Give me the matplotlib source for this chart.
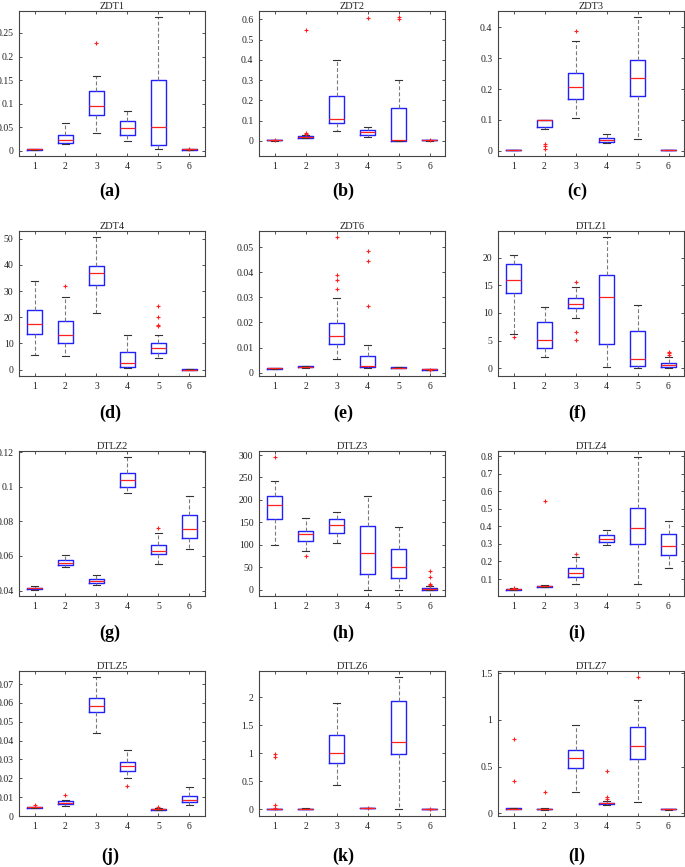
import matplotlib
matplotlib.use("Agg")
import matplotlib.pyplot as plt

plt.rcParams['font.family'] = ['Liberation Serif', 'DejaVu Serif']

titles = ['ZDT1', 'ZDT2', 'ZDT3', 'ZDT4', 'ZDT6', 'DTLZ1',
          'DTLZ2', 'DTLZ3', 'DTLZ4', 'DTLZ5', 'DTLZ6', 'DTLZ7']
letters = ['(a)', '(b)', '(c)', '(d)', '(e)', '(f)',
           '(g)', '(h)', '(i)', '(j)', '(k)', '(l)']
algos = [1, 2, 3, 4, 5, 6]

# box statistics: lower whisker, q1, median, q3, upper whisker
whislo = [
    [0.0025, 0.014, 0.039, 0.021, 0.0035, 0.0025],
    [0.002, 0.013, 0.049, 0.018, 0.002, 0.002],
    [0.002, 0.072, 0.106, 0.024, 0.039, 0.002],
    [5.5, 5.1, 21.8, 0.5, 4.3, 0.0],
    [0.0016, 0.002, 0.0056, 0.0017, 0.0018, 0.0011],
    [6.1, 2.0, 9.0, 0.2, 0.0, 0.1],
    [0.0406, 0.0535, 0.0433, 0.0962, 0.0554, 0.0638],
    [100.3, 85.4, 103.3, 0.0, 0.0, 0.0],
    [0.037, 0.0526, 0.0715, 0.2955, 0.0696, 0.161],
    [0.0041, 0.0055, 0.044, 0.020, 0.0032, 0.0059],
    [0.0, 0.0, 0.433, 0.015, 0.0, 0.0],
    [0.043, 0.040, 0.229, 0.093, 0.121, 0.040],
]
q1 = [
    [0.003, 0.0176, 0.0754, 0.033, 0.0127, 0.003],
    [0.0025, 0.013, 0.087, 0.031, 0.002, 0.0025],
    [0.0025, 0.078, 0.167, 0.030, 0.176, 0.0025],
    [13.5, 10.05, 32.4, 0.9, 6.4, 0.02],
    [0.0016, 0.0021, 0.0115, 0.0021, 0.0019, 0.0012],
    [13.6, 3.6, 10.85, 4.4, 0.4, 0.25],
    [0.041, 0.0546, 0.0444, 0.100, 0.061, 0.0702],
    [158.0, 107.7, 127.0, 35.0, 25.3, 0.0],
    [0.039, 0.0545, 0.1095, 0.3106, 0.297, 0.2347],
    [0.0043, 0.0062, 0.0551, 0.0241, 0.0034, 0.0076],
    [0.0, 0.003, 0.819, 0.018, 0.991, 0.0],
    [0.046, 0.042, 0.482, 0.100, 0.579, 0.041],
]
med = [
    [0.0033, 0.0225, 0.095, 0.0486, 0.0514, 0.0033],
    [0.003, 0.020, 0.107, 0.043, 0.003, 0.003],
    [0.003, 0.100, 0.206, 0.0345, 0.237, 0.003],
    [17.6, 13.4, 36.9, 2.4, 8.1, 0.05],
    [0.0017, 0.0023, 0.0146, 0.0027, 0.0020, 0.0013],
    [15.9, 5.1, 11.6, 12.9, 1.6, 0.5],
    [0.0413, 0.0562, 0.0456, 0.1038, 0.0629, 0.0756],
    [189.5, 123.3, 144.1, 81.0, 51.3, 1.5],
    [0.041, 0.058, 0.132, 0.330, 0.388, 0.290],
    [0.0046, 0.0071, 0.0585, 0.0264, 0.0035, 0.0087],
    [0.002, 0.008, 0.997, 0.020, 1.205, 0.002],
    [0.050, 0.045, 0.596, 0.107, 0.725, 0.043],
]
q3 = [
    [0.0036, 0.0345, 0.128, 0.0627, 0.1514, 0.0036],
    [0.0035, 0.025, 0.220, 0.054, 0.161, 0.0035],
    [0.0035, 0.101, 0.253, 0.040, 0.294, 0.0035],
    [22.6, 18.7, 39.7, 6.6, 10.3, 0.08],
    [0.0017, 0.0026, 0.0196, 0.0066, 0.0021, 0.0015],
    [18.8, 8.3, 12.65, 16.9, 6.8, 1.0],
    [0.0417, 0.0577, 0.0469, 0.1077, 0.0663, 0.0838],
    [209.5, 130.0, 156.8, 142.6, 90.6, 3.7],
    [0.043, 0.062, 0.1607, 0.3524, 0.502, 0.354],
    [0.0048, 0.0078, 0.0626, 0.0289, 0.0037, 0.0108],
    [0.005, 0.012, 1.318, 0.022, 1.923, 0.004],
    [0.0536, 0.050, 0.679, 0.114, 0.921, 0.045],
]
whishi = [
    [0.004, 0.0585, 0.158, 0.0838, 0.283, 0.004],
    [0.004, 0.030, 0.400, 0.069, 0.302, 0.004],
    [0.004, 0.101, 0.356, 0.053, 0.432, 0.004],
    [34.0, 27.9, 50.6, 13.4, 13.4, 0.1],
    [0.0018, 0.0027, 0.0296, 0.011, 0.0022, 0.0016],
    [20.4, 11.0, 14.6, 23.7, 11.4, 2.1],
    [0.0427, 0.0604, 0.0492, 0.1171, 0.0733, 0.0946],
    [243.0, 159.7, 172.4, 209.5, 139.7, 9.0],
    [0.047, 0.064, 0.223, 0.377, 0.794, 0.428],
    [0.0050, 0.0087, 0.0739, 0.0348, 0.0041, 0.0152],
    [0.010, 0.015, 1.887, 0.025, 2.362, 0.006],
    [0.056, 0.052, 0.943, 0.136, 1.210, 0.046],
]
fliers = [
    [[], [], [0.2296], [], [], [0.0033]],
    [[0.003], [0.546, 0.038, 0.033], [], [0.608], [0.611, 0.600], [0.003]],
    [[], [0.0216, 0.015, 0.006], [0.387], [], [], []],
    [[], [32.1], [], [], [24.3, 20.0, 17.2, 16.8], []],
    [[], [], [0.054, 0.0387, 0.037, 0.0334], [0.0485, 0.0446, 0.0265], [], [0.001]],
    [[5.6], [], [15.6, 6.5, 5.06], [], [], [3.0, 2.7, 2.35]],
    [[], [], [], [], [0.0763], []],
    [[295.7], [75.0], [], [], [], [41.6, 29.0, 12.6, 9.7]],
    [[0.0506], [0.544], [0.240], [], [], []],
    [[0.0057], [0.011], [], [0.0161], [0.005], []],
    [[0.99, 0.94, 0.07, 0.03], [], [], [0.024], [], [0.003]],
    [[0.796, 0.35], [0.232], [], [0.454, 0.179, 0.157], [1.46], []],
]

ylims = [(-0.0106, 0.2965), (-0.074, 0.641), (-0.017, 0.453),
         (-2.4, 52.9), (-0.0013, 0.0564), (-1.4, 24.8),
         (0.0369, 0.1206), (-14, 309), (0.0032, 0.829),
         (0.0, 0.0769), (-0.119, 2.463), (-0.029, 1.525)]
yticks = [
    [0, 0.05, 0.1, 0.15, 0.2, 0.25],
    [0, 0.1, 0.2, 0.3, 0.4, 0.5, 0.6],
    [0, 0.1, 0.2, 0.3, 0.4],
    [0, 10, 20, 30, 40, 50],
    [0, 0.01, 0.02, 0.03, 0.04, 0.05],
    [0, 5, 10, 15, 20],
    [0.04, 0.06, 0.08, 0.1, 0.12],
    [0, 50, 100, 150, 200, 250, 300],
    [0.1, 0.2, 0.3, 0.4, 0.5, 0.6, 0.7, 0.8],
    [0, 0.01, 0.02, 0.03, 0.04, 0.05, 0.06, 0.07],
    [0, 0.5, 1, 1.5, 2],
    [0, 0.5, 1, 1.5],
]

W, H = 685, 867
fig = plt.figure(figsize=(W / 100, H / 100), dpi=100)

col_left = [19, 259, 498]
row_top = [11, 231, 451, 671]
label_y = [191, 413, 633, 856]
label_x = [110, 343, 577]
aw, ah = 186, 145

for i in range(12):
    r, c = divmod(i, 3)
    ax = fig.add_axes([col_left[c] / W, 1 - (row_top[r] + ah) / H, aw / W, ah / H])
    stats = []
    for j in range(6):
        stats.append(dict(whislo=whislo[i][j], q1=q1[i][j], med=med[i][j],
                          q3=q3[i][j], whishi=whishi[i][j], fliers=fliers[i][j]))
    ax.bxp(stats, positions=algos, widths=0.5, capwidths=0.25,
           boxprops=dict(color='#2020ff', linewidth=1.0),
           medianprops=dict(color='#ff2020', linewidth=0.9),
           whiskerprops=dict(color='#7a7a7a', linestyle=(0, (3.5, 2)), linewidth=0.8),
           capprops=dict(color='#333333', linewidth=0.8),
           flierprops=dict(marker='+', markeredgecolor='#ff2020', markersize=3.5,
                           markeredgewidth=0.8, linestyle='none'))
    ax.set_xlim(0.5, 6.5)
    ax.set_ylim(*ylims[i])
    ax.set_xticks(algos)
    ax.set_xticklabels([str(a) for a in algos])
    ax.set_yticks(yticks[i])
    ax.set_yticklabels(['%g' % t for t in yticks[i]])
    ax.tick_params(direction='in', length=2.5, width=0.6, labelsize=7,
                   top=True, right=True, pad=4, colors='#333333', labelcolor='#222222')
    for s in ax.spines.values():
        s.set_color('#444444')
        s.set_linewidth(0.8)
    ax.set_title(titles[i], fontsize=7.5, pad=1.5, color='#222222')
    fig.text(label_x[c] / W, 1 - label_y[r] / H, letters[i], fontsize=13,
             fontweight='bold', ha='center', va='center')

fig.savefig('out.png', dpi=100)
